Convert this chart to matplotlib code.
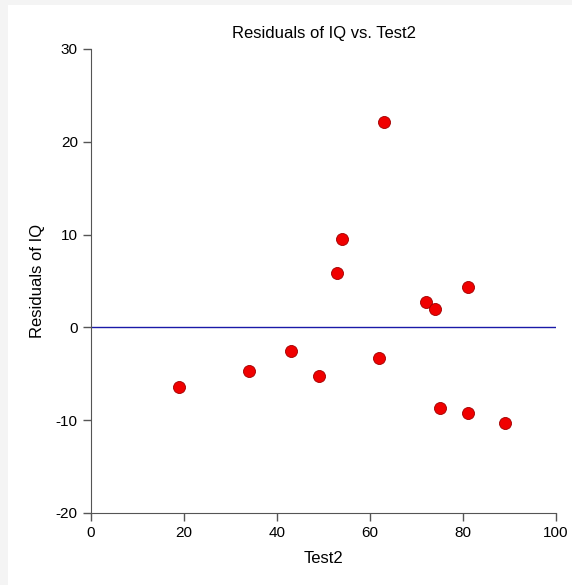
import numpy as np
import matplotlib.pyplot as plt
from matplotlib.patches import Rectangle

plt.rcParams['font.family'] = ['Liberation Sans', 'DejaVu Sans']
plt.rcParams['axes.unicode_minus'] = False

test2 = [19, 34, 43, 49, 53, 54, 62, 63, 72, 74, 75, 81, 81, 89]
residuals = [-6.4, -4.7, -2.5, -5.2, 5.9, 9.5, -3.3, 22.1, 2.7, 2.0, -8.7, 4.3, -9.2, -10.3]

fig = plt.figure(figsize=(5.72, 5.85), dpi=100)
fig.patch.set_facecolor("#f4f4f4")
fig.patches.append(Rectangle((8 / 572, 0), 1, 1 - 5 / 585, transform=fig.transFigure,
                             facecolor="white", edgecolor="none", zorder=-1))

ax = fig.add_axes([91 / 572, 72 / 585, 465 / 572, 464 / 585])
ax.set_facecolor("none")
ax.axhline(0, color="#1a1aa8", linewidth=1.0, zorder=1)
ax.scatter(test2, residuals, s=75, color="#f00000", edgecolors="#a00000",
           linewidths=0.6, zorder=3)

ax.set_xlim(0, 100)
ax.set_ylim(-20, 30)
ax.set_xticks(np.arange(0, 101, 20))
ax.set_yticks(np.arange(-20, 31, 10))
ax.set_title("Residuals of IQ vs. Test2", fontsize=12, pad=8)
ax.set_xlabel("Test2", fontsize=12, labelpad=8)
ax.set_ylabel("Residuals of IQ", fontsize=12, labelpad=8)

for side in ["top", "right"]:
    ax.spines[side].set_visible(False)
for side in ["left", "bottom"]:
    ax.spines[side].set_color("#555555")
ax.tick_params(direction="out", length=6, width=1, color="#555555", labelsize=11)

fig.savefig("out.png", facecolor=fig.get_facecolor())
